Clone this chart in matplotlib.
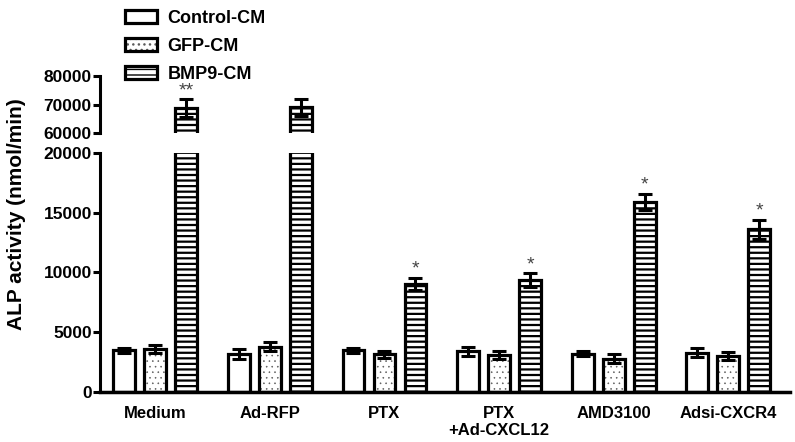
import numpy as np
import matplotlib
matplotlib.use("Agg")
import matplotlib.pyplot as plt
from matplotlib.patches import Patch
from matplotlib.legend_handler import HandlerTuple

# ── data ─────────────────────────────────────────────────────────────────────
groups = ["Medium", "Ad-RFP", "PTX", "PTX\n+Ad-CXCL12", "AMD3100", "Adsi-CXCR4"]
series = ["Control-CM", "GFP-CM", "BMP9-CM"]

control = [3500, 3200, 3500, 3400, 3200, 3300]
control_err = [200, 400, 200, 350, 200, 350]
gfp = [3600, 3800, 3150, 3100, 2800, 3000]
gfp_err = [300, 400, 300, 300, 350, 350]
bmp9 = [68800, 69000, 9050, 9350, 15900, 13600]
bmp9_err = [3000, 3000, 500, 600, 700, 800]
stars = ["**", "", "*", "*", "*", "*"]

lower_ticks = [0, 5000, 10000, 15000, 20000]
upper_ticks = [60000, 70000, 80000]

# ── style ────────────────────────────────────────────────────────────────────
plt.rcParams["font.family"] = ["Liberation Sans", "DejaVu Sans"]

fig = plt.figure(figsize=(7.95, 4.42), dpi=100)
ax_lo = fig.add_axes([0.126, 0.113, 0.868, 0.541])
ax_hi = fig.add_axes([0.126, 0.699, 0.868, 0.129])

x = np.arange(len(groups))
width = 0.19
offsets = [-0.27, 0.0, 0.27]
values = [control, gfp, bmp9]
errors = [control_err, gfp_err, bmp9_err]
hatches = [None, "...", "---"]
hatch_colors = ["black", "#5a5a5a", "black"]
hatch_lw = [1.0, 0.4, 1.6]
EDGE = 2.3
TICK_FS = 12.5


def draw_bars(ax):
    for i in range(3):
        xs = x + offsets[i]
        if hatches[i]:
            with plt.rc_context({"hatch.linewidth": hatch_lw[i]}):
                ax.bar(xs, values[i], width, color="white", edgecolor=hatch_colors[i],
                       linewidth=0, hatch=hatches[i], zorder=2)
        ax.bar(xs, values[i], width, color="none", edgecolor="black",
               linewidth=EDGE, zorder=3)
        ax.errorbar(xs, values[i], yerr=errors[i], fmt="none", ecolor="black",
                    elinewidth=2.2, capsize=5, capthick=2.2, zorder=4)


draw_bars(ax_lo)
draw_bars(ax_hi)

for ax in (ax_lo, ax_hi):
    ax.set_xlim(-0.48, 5.54)
    for s in ("top", "right"):
        ax.spines[s].set_visible(False)
    ax.spines["left"].set_linewidth(2.2)
    ax.tick_params(axis="y", width=2.2, length=5, pad=1)

ax_lo.set_ylim(0, 20000)
ax_lo.set_yticks(lower_ticks)
ax_lo.set_yticklabels([str(t) for t in lower_ticks], fontweight="bold", fontsize=TICK_FS)
ax_lo.spines["bottom"].set_linewidth(2.5)
ax_lo.set_xticks(x)
ax_lo.set_xticklabels(groups, fontsize=12, fontweight="bold", linespacing=1.15)
ax_lo.tick_params(axis="x", length=0, pad=10)

ax_hi.set_ylim(60000, 80000)
ax_hi.set_yticks(upper_ticks)
ax_hi.set_yticklabels([str(t) for t in upper_ticks], fontweight="bold", fontsize=TICK_FS)
ax_hi.spines["bottom"].set_visible(False)
ax_hi.set_xticks([])

# significance stars
for i, s in enumerate(stars):
    if not s:
        continue
    top = bmp9[i] + bmp9_err[i]
    ax = ax_hi if bmp9[i] > 20000 else ax_lo
    ax.text(x[i] + offsets[2], top, s, ha="center", va="bottom",
            fontsize=14, color="#444444", clip_on=False)

fig.text(0.021, 0.515, "ALP activity (nmol/min)", rotation=90, ha="center",
         va="center", fontsize=15, fontweight="bold")

# legend handles: hatch layer + black outline
handles = []
for i in range(3):
    outline = Patch(facecolor="none", edgecolor="black", linewidth=EDGE)
    if hatches[i]:
        with plt.rc_context({"hatch.linewidth": hatch_lw[i]}):
            fill = Patch(facecolor="white", edgecolor=hatch_colors[i], linewidth=0,
                         hatch=hatches[i])
        handles.append((fill, outline))
    else:
        handles.append((Patch(facecolor="white", linewidth=0), outline))

fig.legend(handles, series, loc="upper left", bbox_to_anchor=(0.137, 1.015),
           frameon=False, prop={"weight": "bold", "size": 13},
           handler_map={tuple: HandlerTuple(ndivide=1, pad=0)},
           handlelength=1.75, handleheight=0.8, labelspacing=0.6,
           handletextpad=0.6)

fig.savefig("out.png", dpi=100)
